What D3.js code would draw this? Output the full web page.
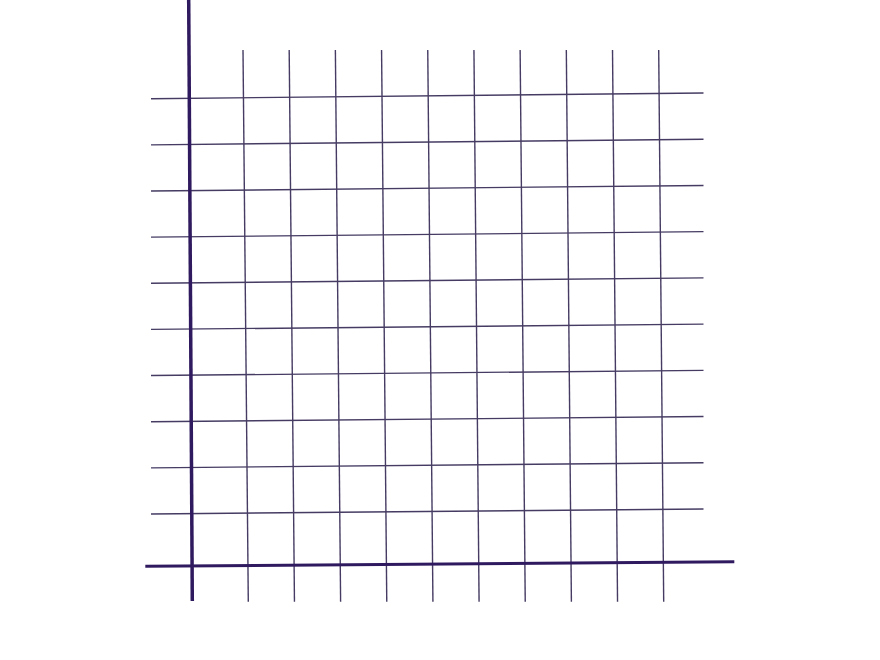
<!DOCTYPE html>
<html>
<head>
<meta charset="utf-8">
<script src="https://cdn.jsdelivr.net/npm/d3@7"></script>
<style>
  html, body { margin: 0; padding: 0; background: #ffffff; }
  svg { display: block; }
</style>
</head>
<body>
<div id="chart"></div>
<script>
// Grid indices (10 vertical and 10 horizontal grid lines)
const columns = [1, 2, 3, 4, 5, 6, 7, 8, 9, 10];
const rows = [1, 2, 3, 4, 5, 6, 7, 8, 9, 10];
const axisEnds = [0, 1];

const W = 880, H = 660;
const svg = d3.select("#chart").append("svg")
  .attr("width", W).attr("height", H);

// Slightly skewed (hand/photo perspective) grid: separate scales for each edge
const xTop = d3.scaleLinear().domain([1, 10]).range([243, 658.7]);
const xBot = d3.scaleLinear().domain([1, 10]).range([248.3, 663.7]);
const yLeft = d3.scaleLinear().domain([1, 10]).range([98.7, 514]);
const yRight = d3.scaleLinear().domain([1, 10]).range([93, 509]);
const gridTop = 50, gridBottom = 601.7, gridLeft = 151, gridRight = 703.5;

const gridColor = "#463c63";
const axisColor = "#2f1a5f";

const g = svg.append("g");

// vertical grid lines
g.selectAll("line.v").data(columns).join("line")
  .attr("class", "v")
  .attr("x1", d => xTop(d)).attr("y1", gridTop)
  .attr("x2", d => xBot(d)).attr("y2", gridBottom)
  .attr("stroke", gridColor).attr("stroke-width", 1.4);

// horizontal grid lines
g.selectAll("line.h").data(rows).join("line")
  .attr("class", "h")
  .attr("x1", gridLeft).attr("y1", d => yLeft(d))
  .attr("x2", gridRight).attr("y2", d => yRight(d))
  .attr("stroke", gridColor).attr("stroke-width", 1.4);

// axes
const yAxisX = d3.scaleLinear().domain([0, 1]).range([188.7, 192.3]);
const yAxisY = d3.scaleLinear().domain([0, 1]).range([0, 601]);
const xAxisX = d3.scaleLinear().domain([0, 1]).range([145.3, 734.3]);
const xAxisY = d3.scaleLinear().domain([0, 1]).range([566.3, 561.8]);

const line = d3.line();
g.append("path")
  .attr("d", line(axisEnds.map(t => [yAxisX(t), yAxisY(t)])))
  .attr("stroke", axisColor).attr("stroke-width", 3.5).attr("fill", "none");
g.append("path")
  .attr("d", line(axisEnds.map(t => [xAxisX(t), xAxisY(t)])))
  .attr("stroke", axisColor).attr("stroke-width", 3).attr("fill", "none");
</script>
</body>
</html>
